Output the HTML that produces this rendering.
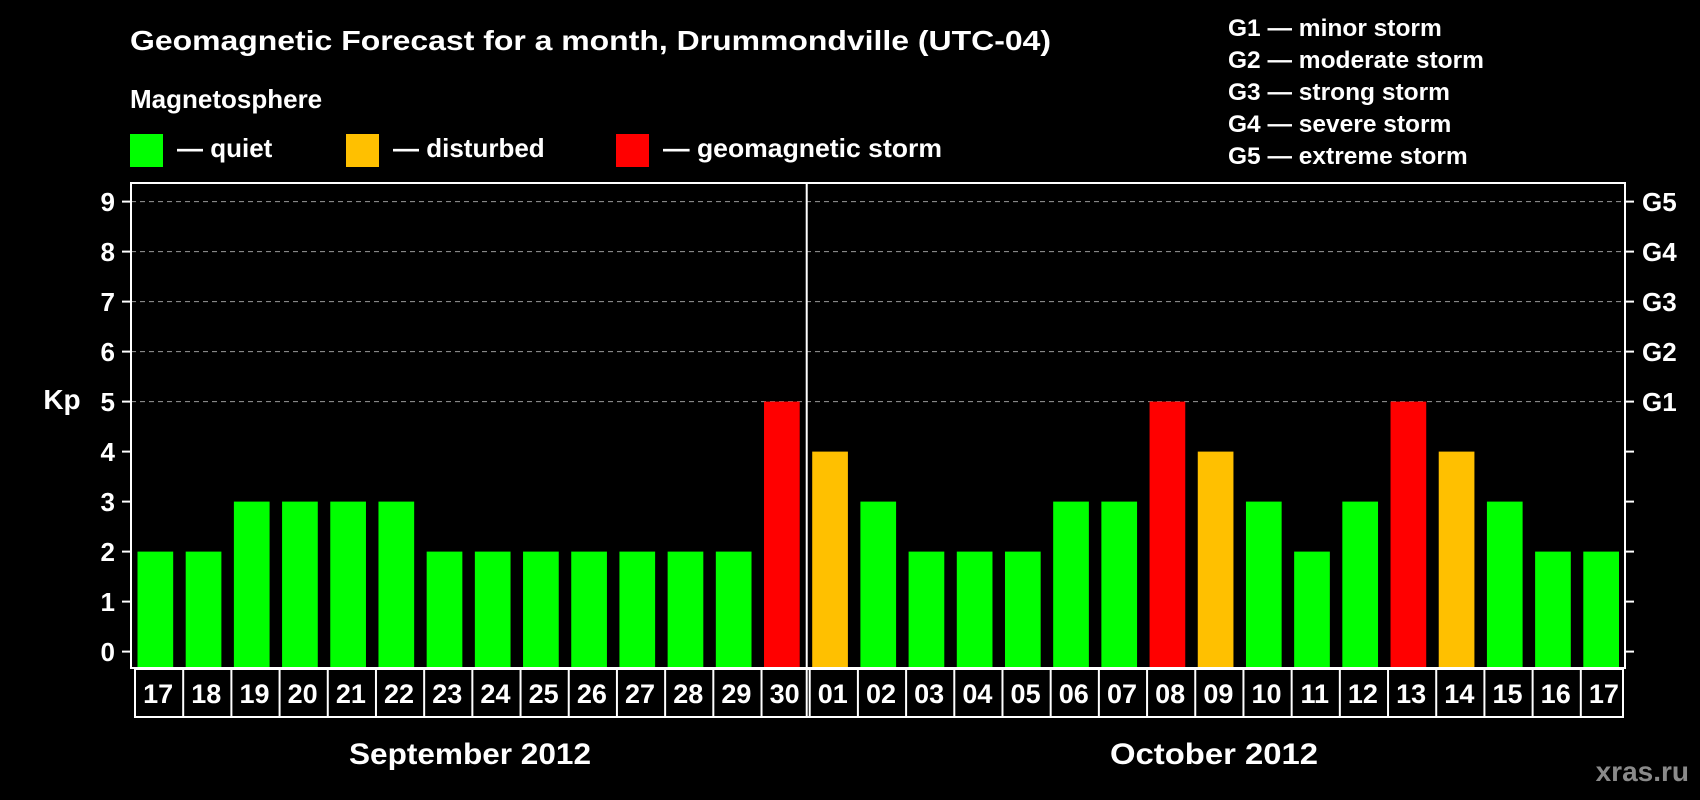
<!DOCTYPE html>
<html><head><meta charset="utf-8"><style>
html,body{margin:0;padding:0;background:#000;}
svg{display:block;font-family:"Liberation Sans",Arial,sans-serif;font-weight:bold;}
</style></head><body>
<svg id="chart" width="1700" height="800" viewBox="0 0 1700 800" xmlns="http://www.w3.org/2000/svg">
<rect x="0" y="0" width="1700" height="800" fill="#000"/>
<text x="130" y="50" fill="#fff" font-size="28" textLength="921" lengthAdjust="spacingAndGlyphs">Geomagnetic Forecast for a month, Drummondville (UTC-04)</text>
<text x="130" y="108" fill="#fff" font-size="26">Magnetosphere</text>
<g>
<rect x="130" y="134" width="33" height="33" fill="#00ff00"/>
<text x="177" y="157" fill="#fff" font-size="26">— quiet</text></g>
<g>
<rect x="346" y="134" width="33" height="33" fill="#ffc000"/>
<text x="393" y="157" fill="#fff" font-size="26">— disturbed</text></g>
<g>
<rect x="616" y="134" width="33" height="33" fill="#ff0000"/>
<text x="663" y="157" fill="#fff" font-size="26" textLength="279" lengthAdjust="spacingAndGlyphs">— geomagnetic storm</text></g>
<g fill="#fff" font-size="24.5">
<text x="1228" y="36">G1 — minor storm</text>
<text x="1228" y="68">G2 — moderate storm</text>
<text x="1228" y="100">G3 — strong storm</text>
<text x="1228" y="132">G4 — severe storm</text>
<text x="1228" y="164">G5 — extreme storm</text>
</g>
<text x="62" y="409" fill="#fff" font-size="28" text-anchor="middle">Kp</text>
<g id="grid"></g><g id="bars"></g><g id="axes"></g><g id="labels"></g>
<text x="470" y="764" fill="#fff" font-size="30" text-anchor="middle" textLength="242" lengthAdjust="spacingAndGlyphs">September 2012</text>
<text x="1214" y="764" fill="#fff" font-size="30" text-anchor="middle" textLength="208" lengthAdjust="spacingAndGlyphs">October 2012</text>
<text x="1689" y="781" fill="#8a8a8a" font-size="28" text-anchor="end">xras.ru</text>
</svg>
<script>
const days = ["17","18","19","20","21","22","23","24","25","26","27","28","29","30","01","02","03","04","05","06","07","08","09","10","11","12","13","14","15","16","17"];
const kpValues = [2,2,3,3,3,3,2,2,2,2,2,2,2,5,4,3,2,2,2,3,3,5,4,3,2,3,5,4,3,2,2];
const yTicks = [0,1,2,3,4,5,6,7,8,9];
const gTicks = ["G1","G2","G3","G4","G5"];
const monthBreakIndex = 14;

const NS="http://www.w3.org/2000/svg";
const L=131,R=1625,T=183,B=668,y0=651.6,unit=50;
const pitch=(R-L)/days.length;
function yScale(v){return y0-v*unit;}
function xScale(i){return L+pitch*i;}
function mk(tag,attrs,parent,txt){const e=document.createElementNS(NS,tag);for(const k in attrs)e.setAttribute(k,attrs[k]);if(txt!==undefined)e.textContent=txt;parent.appendChild(e);return e;}
const grid=document.getElementById('grid'),bars=document.getElementById('bars'),axes=document.getElementById('axes'),labels=document.getElementById('labels');

for(let v=5;v<=9;v++){
  const g=mk('line',{x1:L,x2:R,y1:yScale(v),y2:yScale(v),stroke:'#9a9a9a','stroke-width':1,'stroke-dasharray':'5,4'},grid);
  
  
}
kpValues.forEach((v,i)=>{
  const col=v>=5?'#ff0000':(v>=4?'#ffc000':'#00ff00');
  const r=mk('rect',{x:xScale(i)+6.5,y:yScale(v),width:pitch-12.5,height:B-yScale(v),fill:col},bars);
  
  
});
const frame=mk('rect',{x:L,y:T,width:R-L,height:B-T,fill:'none',stroke:'#fff','stroke-width':2},axes);


yTicks.forEach(v=>{
  const t=mk('line',{x1:L-9,x2:L,y1:yScale(v),y2:yScale(v),stroke:'#fff','stroke-width':2},axes);
  
  
  const t2=mk('line',{x1:R,x2:R+9,y1:yScale(v),y2:yScale(v),stroke:'#fff','stroke-width':2},axes);
  
  
  const tx=mk('text',{x:L-16,y:yScale(v)+9.5,fill:'#fff','font-size':26,'text-anchor':'end'},axes,String(v));
  
  
});
gTicks.forEach((g,i)=>{
  const tx=mk('text',{x:R+17,y:yScale(5+i)+9.5,fill:'#fff','font-size':26},axes,g);
  
  
});
const div=mk('line',{x1:xScale(monthBreakIndex)+1,x2:xScale(monthBreakIndex)+1,y1:T,y2:717,stroke:'#fff','stroke-width':2},axes);


const lb=mk('rect',{x:L+4,y:669,width:R-L-6,height:48,fill:'none',stroke:'#fff','stroke-width':2},labels);


days.forEach((d,i)=>{
  if(i>0){
    const s=mk('line',{x1:xScale(i)+4,x2:xScale(i)+4,y1:669,y2:717,stroke:'#fff','stroke-width':2},labels);
    
    
  }
  const t=mk('text',{x:xScale(i)+pitch/2+3,y:703,fill:'#fff','font-size':27,'text-anchor':'middle'},labels,d);
  
  
});
</script>
</body></html>
